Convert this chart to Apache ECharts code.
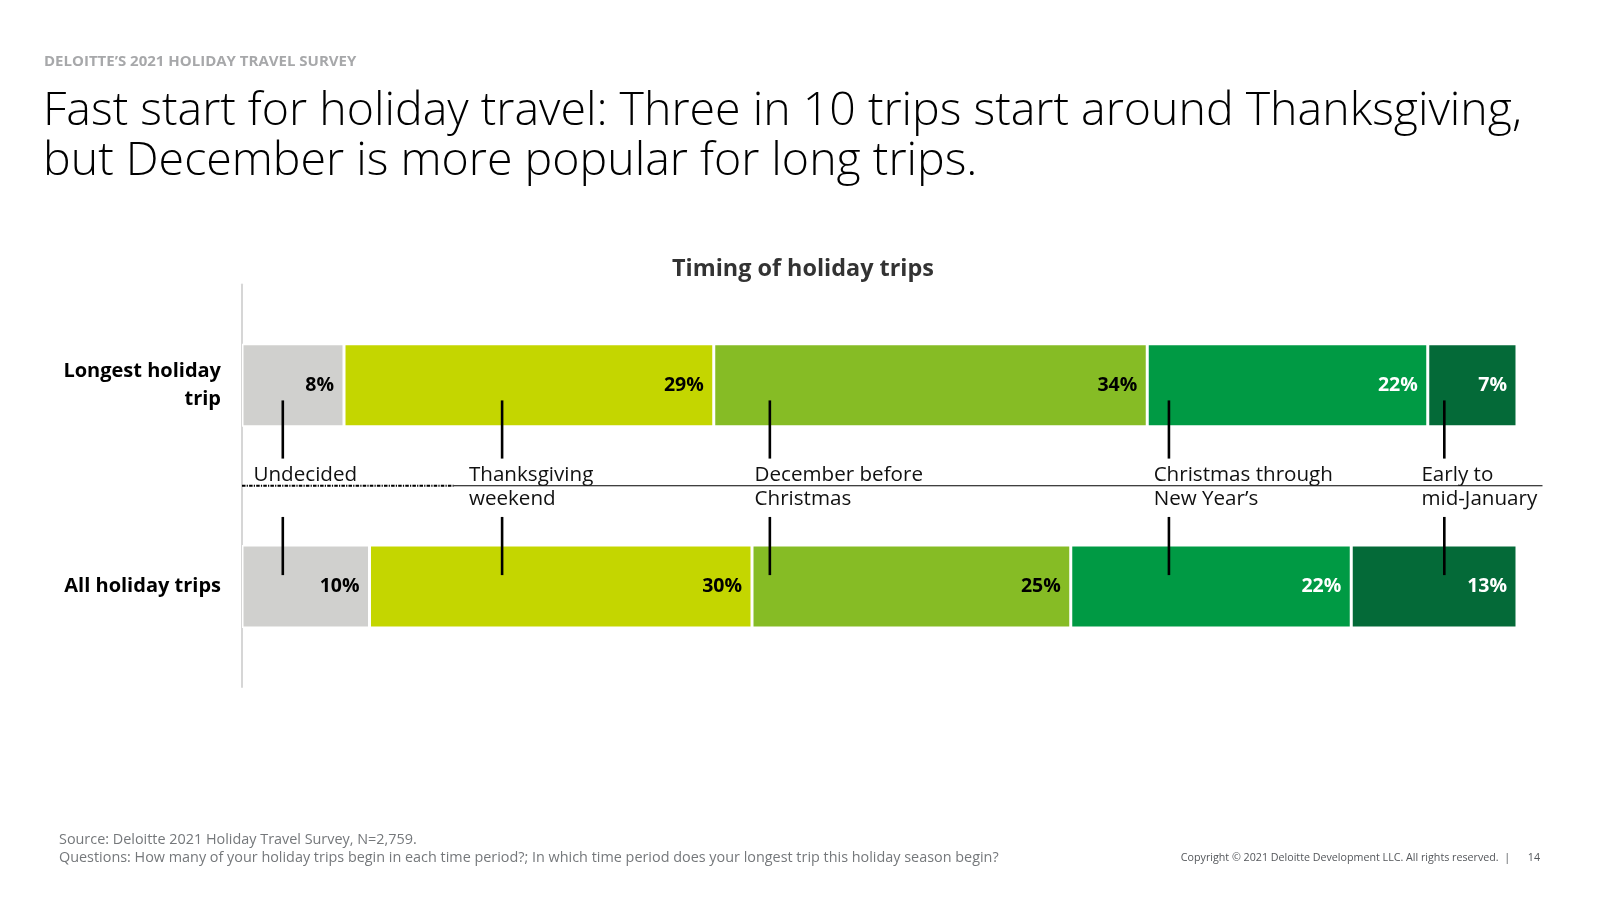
<!DOCTYPE html>
<html>
<head>
<meta charset="utf-8">
<script src="https://cdn.jsdelivr.net/npm/echarts@6/dist/echarts.min.js"></script>
<style>
html,body{margin:0;padding:0;background:#fff;}
#chart{width:1600px;height:900px;}
</style>
</head>
<body>
<div id="chart"></div>
<script>
// ---- data ----
var categories = ['Longest holiday\ntrip', 'All holiday trips'];
var periods = ['Undecided', 'Thanksgiving weekend', 'December before Christmas', 'Christmas through New Year’s', 'Early to mid-January'];
var undecided = [8, 10];
var thanksgiving = [29, 30];
var decemberBeforeChristmas = [34, 25];
var christmasToNewYear = [22, 22];
var earlyToMidJanuary = [7, 13];
var calloutLabels = ['Undecided', 'Thanksgiving\nweekend', 'December before\nChristmas', 'Christmas through\nNew Year’s', 'Early to\nmid-January'];

// ---- annotation placement (axis units) ----
var calloutTickX = [3.2, 20.4, 41.4, 72.7, 94.3];
var calloutTextX = [0.9, 17.8, 40.2, 71.5, 92.5];

var colors = ['#D0D0CE', '#C4D600', '#86BC25', '#009A44', '#046A38'];
var labelColors = ['#000', '#000', '#000', '#fff', '#fff'];
var seriesValues = [undecided, thanksgiving, decemberBeforeChristmas, christmasToNewYear, earlyToMidJanuary];

var FONT = '"Open Sans", "Noto Sans", sans-serif';

var chart = echarts.init(document.getElementById('chart'), null, {renderer: 'canvas'});

var barSeries = seriesValues.map(function (vals, i) {
  return {
    name: periods[i],
    type: 'bar',
    stack: 'total',
    barWidth: 83,
    xAxisIndex: 0,
    yAxisIndex: 0,
    data: vals,
    itemStyle: {color: colors[i], borderColor: '#fff', borderWidth: 1.5},
    label: {
      show: true,
      position: 'insideRight',
      distance: 10,
      formatter: '{c}%',
      fontFamily: FONT,
      fontWeight: 'bold',
      fontSize: 19.5,
      color: labelColors[i]
    },
    emphasis: {disabled: true},
    silent: true
  };
});

var calloutData = calloutLabels.map(function (t, i) {
  return [calloutTickX[i], calloutTextX[i]];
});

var calloutSeries = {
  type: 'custom',
  xAxisIndex: 0,
  yAxisIndex: 1,
  silent: true,
  clip: false,
  z: 5,
  data: calloutData,
  renderItem: function (params, api) {
    var tx = api.value(0), lx = api.value(1);
    var text = calloutLabels[params.dataIndex];
    var a1 = api.coord([tx, 0.576]), a2 = api.coord([tx, 0.865]);
    var b1 = api.coord([tx, 1.155]), b2 = api.coord([tx, 1.444]);
    var base = api.coord([lx, 1.0]);
    return {
      type: 'group',
      children: [
        {type: 'line', shape: {x1: a1[0], y1: a1[1], x2: a2[0], y2: a2[1]}, style: {stroke: '#000', lineWidth: 2.6}},
        {type: 'line', shape: {x1: b1[0], y1: b1[1], x2: b2[0], y2: b2[1]}, style: {stroke: '#000', lineWidth: 2.6}},
        {type: 'text', x: base[0], y: base[1] - 23, style: {
          text: text, fontFamily: FONT, fontSize: 20.6, lineHeight: 24.5,
          fill: '#111', align: 'left', verticalAlign: 'top'
        }}
      ]
    };
  }
};

var baselineSeries = {
  type: 'custom',
  xAxisIndex: 0,
  yAxisIndex: 1,
  silent: true,
  clip: false,
  z: 4,
  data: [[0, 16.6, 102, 1.0]],
  renderItem: function (params, api) {
    var p0 = api.coord([api.value(0), api.value(3)]);
    var p1 = api.coord([api.value(1), api.value(3)]);
    var p2 = api.coord([api.value(2), api.value(3)]);
    return {
      type: 'group',
      children: [
        {type: 'line', shape: {x1: p0[0], y1: p0[1], x2: p1[0], y2: p1[1]}, style: {stroke: '#000', lineWidth: 1.8, lineDash: [3.5, 1.2, 1.2, 1.2]}},
        {type: 'line', shape: {x1: p1[0], y1: p1[1], x2: p2[0], y2: p2[1]}, style: {stroke: '#000', lineWidth: 1.2}}
      ]
    };
  }
};

var option = {
  backgroundColor: '#fff',
  animation: false,
  title: {
    text: 'Timing of holiday trips',
    left: 667,
    top: 253,
    textStyle: {fontFamily: FONT, fontWeight: 'bold', fontSize: 23.4, color: '#333'}
  },
  grid: {left: 242, right: 83, top: 284.5, bottom: 213, containLabel: false, outerBoundsMode: 'none'},
  xAxis: [{
    type: 'value', min: 0, max: 100, show: false
  }],
  yAxis: [{
    type: 'category',
    data: categories,
    inverse: true,
    axisLine: {show: true, lineStyle: {color: '#d6d6d6', width: 2}},
    axisTick: {show: false},
    splitLine: {show: false},
    axisLabel: {
      margin: 21,
      fontFamily: FONT,
      fontWeight: 'bold',
      fontSize: 20,
      lineHeight: 28,
      color: '#000',
      align: 'right'
    }
  }, {
    type: 'value', min: 0, max: 2, inverse: true, show: false
  }],
  series: barSeries.concat([calloutSeries, baselineSeries]),
  graphic: [
    {type: 'text', left: 44, top: 54, style: {
      text: 'DELOITTE’S 2021 HOLIDAY TRAVEL SURVEY', fontFamily: FONT, fontWeight: 'bold',
      fontSize: 15, fill: '#a7a8aa'
    }},
    {type: 'text', left: 43, top: 87, style: {
      text: 'Fast start for holiday travel: Three in 10 trips start around Thanksgiving,\nbut December is more popular for long trips.',
      fontFamily: FONT, fontWeight: 300, fontSize: 46.5, lineHeight: 50, fill: '#000'
    }},
    {type: 'text', left: 59, top: 830.5, style: {
      text: 'Source: Deloitte 2021 Holiday Travel Survey, N=2,759.\nQuestions: How many of your holiday trips begin in each time period?; In which time period does your longest trip this holiday season begin?',
      fontFamily: FONT, fontSize: 14.4, lineHeight: 18.6, fill: '#75787b'
    }},
    {type: 'text', right: 90, top: 852, style: {
      text: 'Copyright © 2021 Deloitte Development LLC. All rights reserved.  |',
      fontFamily: FONT, fontSize: 10.7, fill: '#53565a'
    }},
    {type: 'text', right: 60, top: 852, style: {
      text: '14', fontFamily: FONT, fontSize: 10.7, fill: '#53565a'
    }}
  ]
};

chart.setOption(option);
</script>
</body>
</html>
